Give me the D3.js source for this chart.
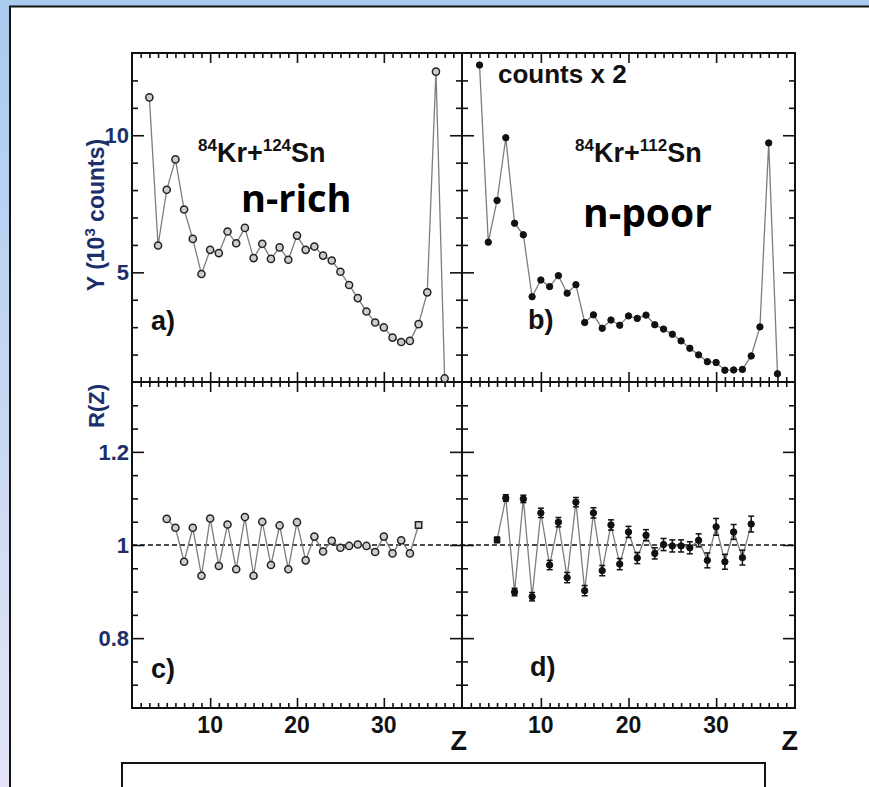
<!DOCTYPE html>
<html>
<head>
<meta charset="utf-8">
<script src="https://cdn.jsdelivr.net/npm/d3@7"></script>
<style>
  html, body { margin: 0; padding: 0; background: #fff; overflow: hidden; }
  svg { display: block; }
</style>
</head>
<body>
<svg id="fig" width="869" height="787"></svg>
<script>
// ---- data -------------------------------------------------------------
// fragment charge Z for the yield spectra (panels a, b)
const zYield = [3, 4, 5, 6, 7, 8, 9, 10, 11, 12, 13, 14, 15, 16, 17, 18, 19, 20,
  21, 22, 23, 24, 25, 26, 27, 28, 29, 30, 31, 32, 33, 34, 35, 36, 37];
// yields in 10^3 counts, 84Kr+124Sn (n-rich)
const yieldRich = [11.38, 5.98, 8.01, 9.12, 7.29, 6.22, 4.94, 5.82, 5.70, 6.49,
  6.06, 6.62, 5.52, 6.04, 5.49, 5.91, 5.46, 6.34, 5.82, 5.94, 5.61, 5.43, 5.02,
  4.54, 4.06, 3.57, 3.17, 2.99, 2.62, 2.46, 2.50, 3.11, 4.27, 12.32, 1.13];
// yields in 10^3 counts (x2), 84Kr+112Sn (n-poor)
const yieldPoor = [12.56, 6.10, 7.62, 9.91, 6.79, 6.37, 4.11, 4.72, 4.48, 4.88,
  4.24, 4.55, 3.17, 3.45, 2.96, 3.26, 3.07, 3.41, 3.32, 3.44, 3.09, 2.93, 2.74,
  2.50, 2.23, 1.99, 1.74, 1.71, 1.43, 1.44, 1.46, 1.95, 3.01, 9.72, 1.30];

// fragment charge Z for the staggering ratio R(Z) (panels c, d)
const zRatio = [5, 6, 7, 8, 9, 10, 11, 12, 13, 14, 15, 16, 17, 18, 19, 20, 21,
  22, 23, 24, 25, 26, 27, 28, 29, 30, 31, 32, 33, 34];
const ratioRich = [1.056, 1.037, 0.964, 1.037, 0.934, 1.057, 0.955, 1.044, 0.948,
  1.060, 0.934, 1.050, 0.957, 1.042, 0.948, 1.049, 0.967, 1.018, 0.986, 1.009,
  0.994, 0.998, 1.001, 0.998, 0.985, 1.018, 0.982, 1.010, 0.982, 1.043];
const ratioPoor = [1.011, 1.101, 0.899, 1.099, 0.889, 1.069, 0.957, 1.049, 0.930,
  1.092, 0.902, 1.069, 0.945, 1.043, 0.959, 1.028, 0.972, 1.021, 0.982, 1.001,
  0.998, 0.998, 0.994, 1.010, 0.967, 1.039, 0.964, 1.028, 0.973, 1.045];
const ratioPoorErr = [0.006, 0.007, 0.008, 0.008, 0.009, 0.010, 0.010, 0.010,
  0.011, 0.010, 0.011, 0.011, 0.011, 0.011, 0.012, 0.012, 0.012, 0.012, 0.012,
  0.013, 0.013, 0.013, 0.013, 0.014, 0.016, 0.018, 0.016, 0.016, 0.016, 0.017];
// points drawn with a square marker instead of a circle
const squareRich = [34];
const squarePoor = [5];

// axis tick labels
const xTickLabels = [10, 20, 30];
const yieldTickLabels = [5, 10];
const ratioTickLabels = [0.8, 1, 1.2];

// ---- layout -----------------------------------------------------------
const W = 869, H = 787;
const X0 = 132, XM = 462, X1 = 795;   // left, divider, right
const Y0 = 53, YM = 382, Y1 = 708;    // top, divider, bottom

const svg = d3.select("#fig");
const defs = svg.append("defs");
const grad = defs.append("linearGradient").attr("id", "bg")
  .attr("x1", 0).attr("y1", 0).attr("x2", 0).attr("y2", 1);
grad.append("stop").attr("offset", "0%").attr("stop-color", "#a9cbef");
grad.append("stop").attr("offset", "100%").attr("stop-color", "#e4e4f6");

// slide background with the figure sheet on top of it
svg.append("rect").attr("width", W).attr("height", H).attr("fill", "url(#bg)");
svg.append("rect").attr("x", 10).attr("y", 7).attr("width", W - 10).attr("height", H - 7)
  .attr("fill", "#fff");
svg.append("path").attr("d", `M10,${H} V6.5 H${W}`)
  .attr("fill", "none").attr("stroke", "#151515").attr("stroke-width", 2);

const xLeft = d3.scaleLinear().domain([1, 39]).range([X0, XM]);
const xRight = d3.scaleLinear().domain([1, 39]).range([XM, X1]);
const yYield = d3.scaleLinear().domain([1, 13]).range([YM, Y0]);
const yRatio = d3.scaleLinear().domain([0.65, 1.35]).range([Y1, YM]);

const ink = "#111";
const labelInk = "#1d2f6a";

function tickSet(axisFn, transform, scale, values, size) {
  svg.append("g").attr("transform", transform)
    .call(axisFn(scale).tickValues(values).tickSize(size).tickFormat(""))
    .call(g => g.select(".domain").remove())
    .selectAll("line").attr("stroke", ink).attr("stroke-width", 1.6);
}

const xMinor = d3.range(2, 39).filter(v => v % 10 !== 0);
const xMajor = [10, 20, 30];
const yieldMinor = d3.range(2, 13).filter(v => v !== 5 && v !== 10);
const yieldMajor = [5, 10];
const ratioMinor = d3.range(0.70, 1.31, 0.05).filter(v =>
  Math.abs(v - 0.8) > 1e-6 && Math.abs(v - 1) > 1e-6 && Math.abs(v - 1.2) > 1e-6);
const ratioMajor = [0.8, 1, 1.2];

function frame(x, y, yMinor, yMajor) {
  const [xa, xb] = x.range();
  const [yb, ya] = y.range();
  tickSet(d3.axisTop, `translate(0,${yb})`, x, xMinor, 5);
  tickSet(d3.axisTop, `translate(0,${yb})`, x, xMajor, 10);
  tickSet(d3.axisBottom, `translate(0,${ya})`, x, xMinor, 5);
  tickSet(d3.axisBottom, `translate(0,${ya})`, x, xMajor, 10);
  tickSet(d3.axisRight, `translate(${xa},0)`, y, yMinor, 6);
  tickSet(d3.axisRight, `translate(${xa},0)`, y, yMajor, 12);
  tickSet(d3.axisLeft, `translate(${xb},0)`, y, yMinor, 6);
  tickSet(d3.axisLeft, `translate(${xb},0)`, y, yMajor, 12);
  svg.append("rect").attr("x", xa).attr("y", ya).attr("width", xb - xa)
    .attr("height", yb - ya).attr("fill", "none")
    .attr("stroke", ink).attr("stroke-width", 2);
}

frame(xLeft, yYield, yieldMinor, yieldMajor);
frame(xRight, yYield, yieldMinor, yieldMajor);
frame(xLeft, yRatio, ratioMinor, ratioMajor);
frame(xRight, yRatio, ratioMinor, ratioMajor);

// reference line R = 1 across both lower panels
svg.append("line")
  .attr("x1", X0).attr("x2", X1)
  .attr("y1", yRatio(1)).attr("y2", yRatio(1))
  .attr("stroke", ink).attr("stroke-width", 1.4).attr("stroke-dasharray", "5,3");

function series(x, y, zs, vs, open, squares, errs) {
  const pts = zs.map((z, i) => ({ z, v: vs[i], e: errs ? errs[i] : 0 }));
  const line = d3.line().x(d => x(d.z)).y(d => y(d.v));
  svg.append("path").datum(pts).attr("d", line)
    .attr("fill", "none").attr("stroke", "#7d7d7d").attr("stroke-width", 1.3);
  if (errs) {
    const eb = svg.append("g").attr("stroke", ink).attr("stroke-width", 1.5);
    pts.forEach(d => {
      const cx = x(d.z), yt = y(d.v + d.e), ybm = y(d.v - d.e);
      eb.append("line").attr("x1", cx).attr("x2", cx).attr("y1", yt).attr("y2", ybm);
      eb.append("line").attr("x1", cx - 3).attr("x2", cx + 3).attr("y1", yt).attr("y2", yt);
      eb.append("line").attr("x1", cx - 3).attr("x2", cx + 3).attr("y1", ybm).attr("y2", ybm);
    });
  }
  const sym = d3.symbol().size(open ? 40 : 32);
  svg.append("g").selectAll("path.m").data(pts).join("path")
    .attr("transform", d => `translate(${x(d.z)},${y(d.v)})`)
    .attr("d", d => sym.type(squares.includes(d.z) ? d3.symbolSquare : d3.symbolCircle)())
    .attr("fill", open ? "#cdcdcd" : ink)
    .attr("stroke", open ? "#222" : ink)
    .attr("stroke-width", open ? 1.5 : 1);
}

series(xLeft, yYield, zYield, yieldRich, true, []);
series(xRight, yYield, zYield, yieldPoor, false, []);
series(xLeft, yRatio, zRatio, ratioRich, true, squareRich);
series(xRight, yRatio, zRatio, ratioPoor, false, squarePoor, ratioPoorErr);

// ---- text -------------------------------------------------------------
const sans = "'Liberation Sans', Arial, Helvetica, sans-serif";

function txt(x, y, s, size, opts = {}) {
  return svg.append("text").attr("x", x).attr("y", y).text(s)
    .attr("font-family", opts.family || sans)
    .attr("font-weight", "bold")
    .attr("font-size", size)
    .attr("fill", opts.fill || ink)
    .attr("text-anchor", opts.anchor || "start");
}

// x tick labels
[xLeft, xRight].forEach(x => {
  xTickLabels.forEach(v => txt(x(v), 733, v, 23, { anchor: "middle" }));
});
txt(467, 750, "Z", 27, { anchor: "end" });
txt(798, 750, "Z", 27, { anchor: "end" });

// y tick labels
yieldTickLabels.forEach(v => txt(129, yYield(v) + 8, v, 22, { anchor: "end", fill: labelInk }));
ratioTickLabels.forEach(v => txt(129, yRatio(v) + 8, v, 22, { anchor: "end", fill: labelInk }));

// y axis titles
const yt = svg.append("text")
  .attr("transform", "translate(104,215) rotate(-90)")
  .attr("text-anchor", "middle")
  .attr("font-family", sans).attr("font-weight", "bold")
  .attr("font-size", 23).attr("fill", labelInk);
yt.append("tspan").text("Y (10");
yt.append("tspan").text("3").attr("font-size", 15).attr("dy", -9);
yt.append("tspan").text(" counts)").attr("dy", 9);

svg.append("text")
  .attr("transform", "translate(104,406) rotate(-90)")
  .attr("text-anchor", "middle")
  .attr("font-family", sans).attr("font-weight", "bold")
  .attr("font-size", 22).attr("fill", labelInk)
  .text("R(Z)");

// reaction labels with mass-number superscripts
function reaction(x, y, a1, el1, a2, el2) {
  const t = svg.append("text").attr("x", x).attr("y", y)
    .attr("font-family", sans).attr("font-weight", "bold")
    .attr("font-size", 27).attr("fill", ink);
  t.append("tspan").text(a1).attr("font-size", 17).attr("dy", -11);
  t.append("tspan").text(el1 + "+").attr("dy", 11);
  t.append("tspan").text(a2).attr("font-size", 17).attr("dy", -11);
  t.append("tspan").text(el2).attr("dy", 11);
}
reaction(198, 162, "84", "Kr", "124", "Sn");
reaction(575, 162, "84", "Kr", "112", "Sn");

txt(498, 83, "counts x 2", 26);

const big = "'Open Sans', 'Noto Sans', sans-serif";
txt(241, 212, "n-rich", 38, { family: big, fill: "#000" });
txt(583, 227, "n-poor", 39, { family: big, fill: "#000" });

txt(151, 330, "a)", 27);
txt(528, 329, "b)", 27);
txt(151, 678, "c)", 27);
txt(530, 676, "d)", 27);

// caption box below the figure
svg.append("rect").attr("x", 122).attr("y", 763).attr("width", 643).attr("height", 60)
  .attr("fill", "#fff").attr("stroke", ink).attr("stroke-width", 2);
</script>
</body>
</html>
